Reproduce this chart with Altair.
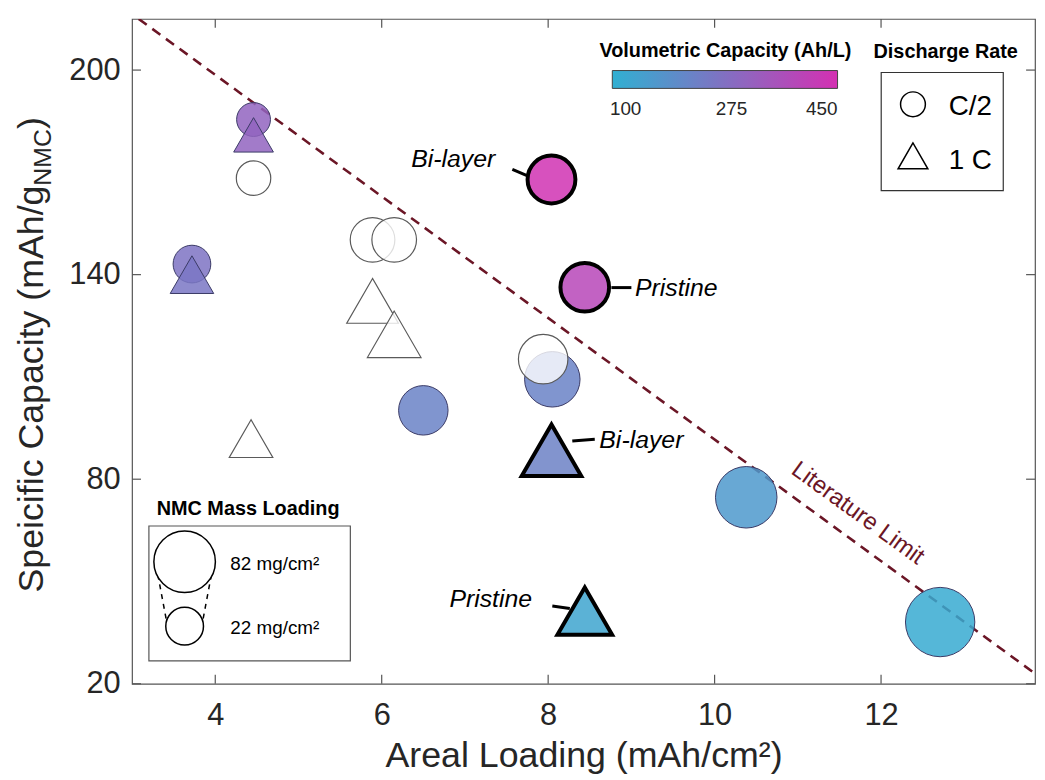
import altair as alt
import pandas as pd

# ---------------- data ----------------
# markers with a volumetric capacity (coloured)
col_areal = [4.46, 4.46, 3.72, 3.72, 6.50, 8.05, 10.38, 12.71, 8.04, 8.44, 8.04, 8.44]
col_spec = [185.5, 181.0, 143.1, 140.0, 100.2, 109.3, 74.7, 38.1, 167.9, 136.3, 88.5, 41.3]
col_rate = ["C/2", "1 C", "C/2", "1 C", "C/2", "C/2", "C/2", "C/2", "C/2", "C/2", "1 C", "1 C"]
col_vol = [300, 300, 255, 245, 210, 210, 145, 95, 440, 385, 215, 110]
col_mass = [15, 26, 22, 34, 48, 64, 82, 108, 44, 46, 76, 62]
col_note = ["", "", "", "", "", "", "", "", "Bi-layer", "Pristine", "Bi-layer", "Pristine"]

# markers without a volumetric capacity (white)
wht_areal = [4.46, 5.89, 6.15, 5.89, 6.15, 4.43, 7.94]
wht_spec = [168.3, 150.2, 150.2, 132.3, 122.5, 91.9, 115.2]
wht_rate = ["C/2", "C/2", "C/2", "1 C", "1 C", "1 C", "C/2"]
wht_mass = [16, 36.5, 36.5, 53.5, 59, 34, 48]

# annotations
note_text = ["Bi-layer", "Pristine", "Bi-layer", "Pristine"]
note_x = [6.86, 9.54, 9.12, 7.31]
note_y = [173.8, 136.2, 91.4, 44.8]
lead_x = [7.57, 8.76, 8.29, 8.05]
lead_y = [170.9, 136.2, 91.2, 42.8]
lead_x2 = [7.76, 9.00, 8.56, 8.26]
lead_y2 = [168.9, 136.2, 91.7, 42.1]

# literature limit line
limit_x = [3.08, 13.85]
limit_y = [215.0, 23.0]
limit_label = "Literature Limit"
limit_label_x = [11.72]
limit_label_y = [70.0]

x_ticks = [4, 6, 8, 10, 12]
y_ticks = [20, 80, 140, 200]
vol_ticks = [100, 275, 450]
mass_legend = [82, 22]
rate_domain = ["C/2", "1 C"]

# ---------------- tables ----------------
df_col = pd.DataFrame(dict(areal=col_areal, spec=col_spec, rate=col_rate,
                           vol=col_vol, mass=col_mass, note=col_note))
df_wht = pd.DataFrame(dict(areal=wht_areal, spec=wht_spec, rate=wht_rate, mass=wht_mass))
df_note = pd.DataFrame(dict(text=note_text, tx=note_x, ty=note_y,
                            lx=lead_x, ly=lead_y, lx2=lead_x2, ly2=lead_y2))
df_limit = pd.DataFrame(dict(areal=limit_x, spec=limit_y))
df_limlab = pd.DataFrame(dict(areal=limit_label_x, spec=limit_label_y, text=[limit_label]))
df_xt = pd.DataFrame(dict(t=x_ticks))
df_yt = pd.DataFrame(dict(t=y_ticks))

W, H = 910, 670
TXT = "#262626"
FONT = "Liberation Sans"

xs = alt.Scale(domain=[3, 13.85], nice=False, zero=False)
ys = alt.Scale(domain=[20, 215], nice=False, zero=False)
xaxis = alt.Axis(values=x_ticks, ticks=False, tickSize=0, domain=False, grid=False,
                 labelFontSize=31, labelColor=TXT, labelPadding=17,
                 titleFontSize=36, titleFontWeight="normal", titleColor=TXT, titlePadding=8)
yaxis = alt.Axis(values=y_ticks, ticks=False, tickSize=0, domain=False, grid=False,
                 labelFontSize=31, labelColor=TXT, labelPadding=12)
XT = "Areal Loading (mAh/cm²)"

size_scale = alt.Scale(domain=[22, 82], range=[1444, 3844], zero=False)
shape_scale = alt.Scale(domain=rate_domain, range=["circle", "triangle-up"])


def X(field):
    return alt.X(field, type="quantitative", scale=xs, axis=xaxis, title=XT)


def Y(field):
    return alt.Y(field, type="quantitative", scale=ys, axis=yaxis, title=None)


shape_enc = alt.Shape("rate:N", scale=shape_scale, legend=None)
size_enc = alt.Size("mass:Q", scale=size_scale, legend=None)

limit = alt.Chart(df_limit).mark_line(color="#6b1626", strokeWidth=2.6,
                                       strokeDash=[10, 7], clip=True).encode(x=X("areal"), y=Y("spec"))

colored = alt.Chart(df_col).mark_point(filled=True, fillOpacity=0.85, opacity=1).encode(
    x=X("areal"), y=Y("spec"),
    shape=shape_enc, size=size_enc,
    fill=alt.Fill("vol:Q",
                  scale=alt.Scale(domain=[78, 450], range=["#30b0d2", "#d430b2"], interpolate="rgb"),
                  legend=alt.Legend(title="Volumetric Capacity (Ah/L)", orient="none",
                                    legendX=471, legendY=22, direction="horizontal",
                                    gradientLength=227, gradientThickness=18,
                                    gradientStrokeColor="#444", gradientStrokeWidth=1,
                                    values=vol_ticks, labelAlign="center", labelFontSize=19,
                                    labelColor=TXT, labelOffset=12, titleFontSize=20,
                                    titleFontWeight="bold", titleColor="black", titleLimit=500,
                                    titleAnchor="middle", titlePadding=10)),
    stroke=alt.condition("datum.note != ''", alt.value("black"), alt.value("#3a3a66")),
    strokeWidth=alt.condition("datum.note != ''", alt.value(4), alt.value(1)),
)

white = alt.Chart(df_wht).mark_point(filled=True, fill="white", fillOpacity=0.8,
                                     stroke="#5a5a5a", strokeWidth=1.2, opacity=1).encode(
    x=X("areal"), y=Y("spec"), shape=shape_enc, size=size_enc)

leaders = alt.Chart(df_note).mark_rule(color="black", strokeWidth=3).encode(
    x=X("lx"), y=Y("ly"), x2="lx2", y2="ly2")
notes = alt.Chart(df_note).mark_text(fontSize=25, fontStyle="italic", color="black",
                                     align="center", baseline="middle").encode(
    x=X("tx"), y=Y("ty"), text="text:N")

limlab = alt.Chart(df_limlab).mark_text(fontSize=24, color="#6b1626", angle=36,
                                        align="center", baseline="middle").encode(
    x=X("areal"), y=Y("spec"), text="text:N")

TICK = 9
tick_c = "#555555"
xt_bot = alt.Chart(df_xt).mark_rule(color=tick_c, strokeWidth=1.2).encode(
    x=X("t"), y=alt.value(H), y2=alt.value(H - TICK))
xt_top = alt.Chart(df_xt).mark_rule(color=tick_c, strokeWidth=1.2).encode(
    x=X("t"), y=alt.value(0), y2=alt.value(TICK))
yt_left = alt.Chart(df_yt).mark_rule(color=tick_c, strokeWidth=1.2).encode(
    y=Y("t"), x=alt.value(0), x2=alt.value(TICK))
yt_right = alt.Chart(df_yt).mark_rule(color=tick_c, strokeWidth=1.2).encode(
    y=Y("t"), x=alt.value(W), x2=alt.value(W - TICK))

# ---------------- Discharge Rate legend ----------------
rate_box = alt.Chart().mark_rect(fillOpacity=0, stroke="#333", strokeWidth=1.2).encode(
    x=alt.value(755), x2=alt.value(878), y=alt.value(54), y2=alt.value(173))
rate_title = alt.Chart().mark_text(text="Discharge Rate", fontSize=20, fontWeight="bold",
                                   color="black", align="center", baseline="alphabetic").encode(
    x=alt.value(820), y=alt.value(39))
rate_sym_c = alt.Chart(pd.DataFrame(dict(rate=[rate_domain[0]]))).mark_point(
    filled=True, fill="white", stroke="black", strokeWidth=1.5, size=625, opacity=1).encode(
    shape=alt.Shape("rate:N", scale=shape_scale, legend=None), x=alt.value(787), y=alt.value(86))
rate_sym_t = alt.Chart(pd.DataFrame(dict(rate=[rate_domain[1]]))).mark_point(
    filled=True, fill="white", stroke="black", strokeWidth=1.5, size=900, opacity=1).encode(
    shape=alt.Shape("rate:N", scale=shape_scale, legend=None), x=alt.value(787), y=alt.value(138))
rate_lab_c = alt.Chart().mark_text(text=rate_domain[0], fontSize=28, color="black",
                                   align="left", baseline="middle").encode(
    x=alt.value(823), y=alt.value(89))
rate_lab_t = alt.Chart().mark_text(text=rate_domain[1], fontSize=28, color="black",
                                   align="left", baseline="middle").encode(
    x=alt.value(823), y=alt.value(143))

# ---------------- NMC Mass Loading legend ----------------
mass_box = alt.Chart().mark_rect(fillOpacity=0, stroke="#555", strokeWidth=1.2).encode(
    x=alt.value(17), x2=alt.value(220), y=alt.value(511), y2=alt.value(647))
mass_title = alt.Chart().mark_text(text="NMC Mass Loading", fontSize=20, fontWeight="bold",
                                   color="black", align="center", baseline="alphabetic").encode(
    x=alt.value(117), y=alt.value(500))
mass_big = alt.Chart(pd.DataFrame(dict(mass=[mass_legend[0]]))).mark_point(
    filled=True, fill="white", stroke="black", strokeWidth=1.5, shape="circle", opacity=1).encode(
    size=alt.Size("mass:Q", scale=size_scale, legend=None), x=alt.value(53), y=alt.value(547))
mass_small = alt.Chart(pd.DataFrame(dict(mass=[mass_legend[1]]))).mark_point(
    filled=True, fill="white", stroke="black", strokeWidth=1.5, shape="circle", opacity=1).encode(
    size=alt.Size("mass:Q", scale=size_scale, legend=None), x=alt.value(53), y=alt.value(612))
mass_lab_big = alt.Chart().mark_text(text=f"{mass_legend[0]} mg/cm²", fontSize=19, color="black",
                                     align="left", baseline="middle").encode(
    x=alt.value(99), y=alt.value(549))
mass_lab_small = alt.Chart().mark_text(text=f"{mass_legend[1]} mg/cm²", fontSize=19, color="black",
                                       align="left", baseline="middle").encode(
    x=alt.value(99), y=alt.value(614))
conn_l = alt.Chart().mark_rule(color="black", strokeWidth=1.5, strokeDash=[5, 5]).encode(
    x=alt.value(26), y=alt.value(560), x2=alt.value(35), y2=alt.value(608))
conn_r = alt.Chart().mark_rule(color="black", strokeWidth=1.5, strokeDash=[5, 5]).encode(
    x=alt.value(80), y=alt.value(560), x2=alt.value(71), y2=alt.value(608))

# ---------------- y-axis title with subscript ----------------
ytitle_main = alt.Chart().mark_text(text="Speicific Capacity (mAh/g", fontSize=36, angle=270,
                                    align="left", baseline="alphabetic", color=TXT).encode(
    x=alt.value(-90), y=alt.value(578))
ytitle_sub = alt.Chart().mark_text(text="NMC", fontSize=25, angle=270,
                                   align="left", baseline="alphabetic", color=TXT).encode(
    x=alt.value(-82), y=alt.value(168))
ytitle_end = alt.Chart().mark_text(text=")", fontSize=36, angle=270,
                                   align="left", baseline="alphabetic", color=TXT).encode(
    x=alt.value(-90), y=alt.value(111))

chart = alt.layer(
    limit, colored, white, leaders, notes, limlab,
    xt_bot, xt_top, yt_left, yt_right,
    mass_box, mass_title, conn_l, conn_r, mass_big, mass_small, mass_lab_big, mass_lab_small,
    rate_box, rate_title, rate_sym_c, rate_sym_t, rate_lab_c, rate_lab_t,
    ytitle_main, ytitle_sub, ytitle_end,
).properties(
    width=W, height=H,
    padding={"left": 125, "top": 8, "right": 2, "bottom": 100},
    autosize=alt.AutoSizeParams(type="none"),
).configure(font=FONT).configure_view(stroke="#555555", strokeWidth=1.2)

chart.save("out.html", embed_options={"renderer": "svg", "actions": False})
